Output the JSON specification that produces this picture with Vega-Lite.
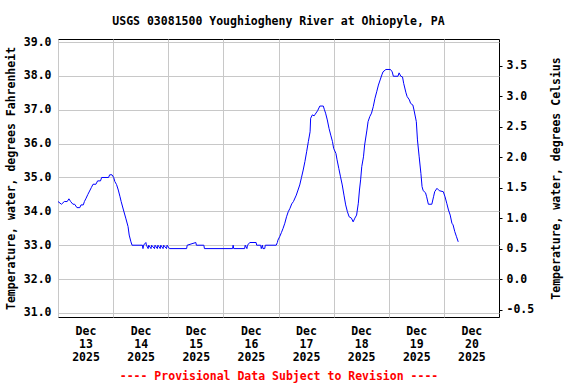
{
  "$schema": "https://vega.github.io/schema/vega-lite/v6.json",
  "width": 441,
  "height": 278,
  "autosize": "none",
  "padding": {"left": 58, "top": 39, "right": 77, "bottom": 67},
  "background": "white",
  "title": {
    "text": "USGS 03081500 Youghiogheny River at Ohiopyle, PA",
    "font": "DejaVu Sans Mono",
    "fontSize": 11.5,
    "fontWeight": "bold",
    "color": "black",
    "anchor": "middle",
    "frame": "group",
    "baseline": "alphabetic",
    "offset": 0
  },
  "config": {
    "view": {"stroke": "black", "strokeWidth": 1},
    "axis": {
      "labelFont": "DejaVu Sans Mono",
      "labelFontSize": 11.5,
      "labelFontWeight": "bold",
      "labelColor": "black",
      "titleFont": "DejaVu Sans Mono",
      "titleFontSize": 11.5,
      "titleFontWeight": "bold",
      "titleColor": "black",
      "gridColor": "#c8c8c8",
      "gridOpacity": 1
    }
  },
  "data": {
    "values": [
      {"t": "2025-12-13T00:00", "f": 34.29},
      {"t": "2025-12-13T01:30", "f": 34.21},
      {"t": "2025-12-13T02:45", "f": 34.29},
      {"t": "2025-12-13T04:00", "f": 34.29},
      {"t": "2025-12-13T04:45", "f": 34.37},
      {"t": "2025-12-13T05:30", "f": 34.29},
      {"t": "2025-12-13T06:30", "f": 34.21},
      {"t": "2025-12-13T07:15", "f": 34.21},
      {"t": "2025-12-13T08:15", "f": 34.11},
      {"t": "2025-12-13T09:30", "f": 34.11},
      {"t": "2025-12-13T10:00", "f": 34.19},
      {"t": "2025-12-13T11:00", "f": 34.19},
      {"t": "2025-12-13T11:30", "f": 34.29},
      {"t": "2025-12-13T12:15", "f": 34.39},
      {"t": "2025-12-13T13:00", "f": 34.5},
      {"t": "2025-12-13T13:45", "f": 34.6},
      {"t": "2025-12-13T14:30", "f": 34.7},
      {"t": "2025-12-13T15:15", "f": 34.8},
      {"t": "2025-12-13T16:30", "f": 34.8},
      {"t": "2025-12-13T17:15", "f": 34.9},
      {"t": "2025-12-13T18:30", "f": 34.9},
      {"t": "2025-12-13T19:00", "f": 35.0},
      {"t": "2025-12-13T22:00", "f": 35.0},
      {"t": "2025-12-13T22:30", "f": 35.08},
      {"t": "2025-12-13T23:30", "f": 35.08},
      {"t": "2025-12-14T00:15", "f": 35.0},
      {"t": "2025-12-14T00:45", "f": 34.88},
      {"t": "2025-12-14T01:30", "f": 34.79},
      {"t": "2025-12-14T02:15", "f": 34.63},
      {"t": "2025-12-14T03:00", "f": 34.43},
      {"t": "2025-12-14T03:30", "f": 34.29},
      {"t": "2025-12-14T04:30", "f": 34.04},
      {"t": "2025-12-14T05:30", "f": 33.8},
      {"t": "2025-12-14T06:30", "f": 33.55},
      {"t": "2025-12-14T07:00", "f": 33.3},
      {"t": "2025-12-14T07:45", "f": 33.1},
      {"t": "2025-12-14T08:15", "f": 33.0},
      {"t": "2025-12-14T12:45", "f": 33.0},
      {"t": "2025-12-14T13:00", "f": 32.9},
      {"t": "2025-12-14T13:15", "f": 33.0},
      {"t": "2025-12-14T14:15", "f": 33.08},
      {"t": "2025-12-14T14:30", "f": 33.0},
      {"t": "2025-12-14T15:15", "f": 32.9},
      {"t": "2025-12-14T15:30", "f": 33.0},
      {"t": "2025-12-14T16:30", "f": 32.9},
      {"t": "2025-12-14T16:45", "f": 33.0},
      {"t": "2025-12-14T18:00", "f": 32.9},
      {"t": "2025-12-14T18:15", "f": 33.0},
      {"t": "2025-12-14T19:15", "f": 32.9},
      {"t": "2025-12-14T19:30", "f": 33.0},
      {"t": "2025-12-14T20:30", "f": 32.9},
      {"t": "2025-12-14T20:45", "f": 33.0},
      {"t": "2025-12-14T21:45", "f": 32.9},
      {"t": "2025-12-14T22:00", "f": 33.0},
      {"t": "2025-12-14T23:15", "f": 32.9},
      {"t": "2025-12-14T23:30", "f": 33.0},
      {"t": "2025-12-15T00:30", "f": 32.9},
      {"t": "2025-12-15T08:00", "f": 32.9},
      {"t": "2025-12-15T08:15", "f": 33.0},
      {"t": "2025-12-15T12:00", "f": 33.08},
      {"t": "2025-12-15T12:15", "f": 33.0},
      {"t": "2025-12-15T15:30", "f": 33.0},
      {"t": "2025-12-15T15:45", "f": 32.9},
      {"t": "2025-12-16T04:00", "f": 32.9},
      {"t": "2025-12-16T04:15", "f": 33.0},
      {"t": "2025-12-16T04:30", "f": 32.9},
      {"t": "2025-12-16T09:15", "f": 32.9},
      {"t": "2025-12-16T09:30", "f": 33.0},
      {"t": "2025-12-16T10:15", "f": 32.9},
      {"t": "2025-12-16T10:30", "f": 33.0},
      {"t": "2025-12-16T11:30", "f": 33.08},
      {"t": "2025-12-16T14:15", "f": 33.08},
      {"t": "2025-12-16T14:30", "f": 33.0},
      {"t": "2025-12-16T16:15", "f": 33.0},
      {"t": "2025-12-16T16:30", "f": 32.9},
      {"t": "2025-12-16T17:00", "f": 33.0},
      {"t": "2025-12-16T17:15", "f": 32.9},
      {"t": "2025-12-16T18:00", "f": 32.9},
      {"t": "2025-12-16T18:15", "f": 33.0},
      {"t": "2025-12-16T23:00", "f": 33.0},
      {"t": "2025-12-16T23:30", "f": 33.08},
      {"t": "2025-12-16T23:45", "f": 33.15},
      {"t": "2025-12-17T00:30", "f": 33.25},
      {"t": "2025-12-17T01:15", "f": 33.37},
      {"t": "2025-12-17T02:00", "f": 33.5},
      {"t": "2025-12-17T02:45", "f": 33.65},
      {"t": "2025-12-17T03:30", "f": 33.84},
      {"t": "2025-12-17T04:15", "f": 33.99},
      {"t": "2025-12-17T05:00", "f": 34.09},
      {"t": "2025-12-17T05:45", "f": 34.22},
      {"t": "2025-12-17T06:30", "f": 34.29},
      {"t": "2025-12-17T07:45", "f": 34.48},
      {"t": "2025-12-17T08:30", "f": 34.63},
      {"t": "2025-12-17T09:15", "f": 34.78},
      {"t": "2025-12-17T10:00", "f": 35.0},
      {"t": "2025-12-17T10:45", "f": 35.22},
      {"t": "2025-12-17T11:30", "f": 35.47},
      {"t": "2025-12-17T12:15", "f": 35.76},
      {"t": "2025-12-17T13:00", "f": 36.06},
      {"t": "2025-12-17T13:45", "f": 36.35},
      {"t": "2025-12-17T14:00", "f": 36.75},
      {"t": "2025-12-17T14:45", "f": 36.85},
      {"t": "2025-12-17T15:30", "f": 36.82},
      {"t": "2025-12-17T16:00", "f": 36.87},
      {"t": "2025-12-17T17:00", "f": 36.97},
      {"t": "2025-12-17T18:00", "f": 37.11},
      {"t": "2025-12-17T19:30", "f": 37.11},
      {"t": "2025-12-17T20:00", "f": 37.0},
      {"t": "2025-12-17T20:30", "f": 36.9},
      {"t": "2025-12-17T21:15", "f": 36.7},
      {"t": "2025-12-17T22:00", "f": 36.45},
      {"t": "2025-12-17T22:45", "f": 36.25},
      {"t": "2025-12-17T23:30", "f": 36.06},
      {"t": "2025-12-18T00:00", "f": 35.86},
      {"t": "2025-12-18T01:00", "f": 35.71},
      {"t": "2025-12-18T01:30", "f": 35.52},
      {"t": "2025-12-18T02:15", "f": 35.27},
      {"t": "2025-12-18T03:00", "f": 35.02},
      {"t": "2025-12-18T03:45", "f": 34.78},
      {"t": "2025-12-18T04:30", "f": 34.48},
      {"t": "2025-12-18T05:15", "f": 34.19},
      {"t": "2025-12-18T06:00", "f": 33.99},
      {"t": "2025-12-18T06:45", "f": 33.84},
      {"t": "2025-12-18T07:45", "f": 33.8},
      {"t": "2025-12-18T08:30", "f": 33.69},
      {"t": "2025-12-18T09:15", "f": 33.8},
      {"t": "2025-12-18T10:00", "f": 33.89},
      {"t": "2025-12-18T10:45", "f": 34.24},
      {"t": "2025-12-18T11:15", "f": 34.63},
      {"t": "2025-12-18T11:45", "f": 34.93},
      {"t": "2025-12-18T12:15", "f": 35.32},
      {"t": "2025-12-18T13:00", "f": 35.61},
      {"t": "2025-12-18T13:30", "f": 35.96},
      {"t": "2025-12-18T14:30", "f": 36.4},
      {"t": "2025-12-18T15:00", "f": 36.65},
      {"t": "2025-12-18T15:45", "f": 36.8},
      {"t": "2025-12-18T16:30", "f": 36.9},
      {"t": "2025-12-18T17:15", "f": 37.09},
      {"t": "2025-12-18T18:00", "f": 37.34},
      {"t": "2025-12-18T18:45", "f": 37.53},
      {"t": "2025-12-18T19:30", "f": 37.73},
      {"t": "2025-12-18T20:15", "f": 37.88},
      {"t": "2025-12-18T21:00", "f": 38.03},
      {"t": "2025-12-18T21:30", "f": 38.12},
      {"t": "2025-12-18T22:45", "f": 38.19},
      {"t": "2025-12-19T00:45", "f": 38.19},
      {"t": "2025-12-19T01:30", "f": 38.12},
      {"t": "2025-12-19T02:00", "f": 37.99},
      {"t": "2025-12-19T04:00", "f": 37.99},
      {"t": "2025-12-19T04:30", "f": 38.09},
      {"t": "2025-12-19T05:15", "f": 37.99},
      {"t": "2025-12-19T06:00", "f": 37.97},
      {"t": "2025-12-19T06:30", "f": 37.78},
      {"t": "2025-12-19T07:30", "f": 37.5},
      {"t": "2025-12-19T08:00", "f": 37.39},
      {"t": "2025-12-19T09:00", "f": 37.29},
      {"t": "2025-12-19T09:30", "f": 37.19},
      {"t": "2025-12-19T10:30", "f": 37.14},
      {"t": "2025-12-19T11:00", "f": 36.99},
      {"t": "2025-12-19T12:00", "f": 36.65},
      {"t": "2025-12-19T12:30", "f": 36.11},
      {"t": "2025-12-19T13:15", "f": 35.61},
      {"t": "2025-12-19T14:00", "f": 35.12},
      {"t": "2025-12-19T14:30", "f": 34.73},
      {"t": "2025-12-19T15:00", "f": 34.61},
      {"t": "2025-12-19T16:00", "f": 34.55},
      {"t": "2025-12-19T16:30", "f": 34.43},
      {"t": "2025-12-19T17:15", "f": 34.21},
      {"t": "2025-12-19T18:45", "f": 34.21},
      {"t": "2025-12-19T19:30", "f": 34.43},
      {"t": "2025-12-19T20:00", "f": 34.58},
      {"t": "2025-12-19T21:00", "f": 34.68},
      {"t": "2025-12-19T22:00", "f": 34.61},
      {"t": "2025-12-19T23:45", "f": 34.58},
      {"t": "2025-12-20T00:30", "f": 34.43},
      {"t": "2025-12-20T01:15", "f": 34.24},
      {"t": "2025-12-20T02:00", "f": 34.04},
      {"t": "2025-12-20T02:45", "f": 33.89},
      {"t": "2025-12-20T03:30", "f": 33.65},
      {"t": "2025-12-20T04:00", "f": 33.6},
      {"t": "2025-12-20T04:45", "f": 33.4},
      {"t": "2025-12-20T05:30", "f": 33.25},
      {"t": "2025-12-20T06:15", "f": 33.1}
    ]
  },
  "layer": [
    {
      "mark": {"type": "line", "color": "#0000ff", "strokeWidth": 1, "interpolate": "linear"},
      "encoding": {
        "x": {
          "field": "t",
          "type": "temporal",
          "scale": {"domain": [
            {"year": 2025, "month": 12, "date": 13, "hours": 0},
            {"year": 2025, "month": 12, "date": 21, "hours": 0}
          ]},
          "axis": {
            "values": [
              {"year": 2025, "month": 12, "date": 13, "hours": 0},
              {"year": 2025, "month": 12, "date": 14, "hours": 0},
              {"year": 2025, "month": 12, "date": 15, "hours": 0},
              {"year": 2025, "month": 12, "date": 16, "hours": 0},
              {"year": 2025, "month": 12, "date": 17, "hours": 0},
              {"year": 2025, "month": 12, "date": 18, "hours": 0},
              {"year": 2025, "month": 12, "date": 19, "hours": 0},
              {"year": 2025, "month": 12, "date": 20, "hours": 0}
            ],
            "labelExpr": "[timeFormat(datum.value, '%b'), timeFormat(datum.value, '%d'), timeFormat(datum.value, '%Y')]",
            "labelOffset": 27.5,
            "labelAlign": "center",
            "labelBaseline": "top",
            "labelLineHeight": 13,
            "labelPadding": 8,
            "labelFlush": false,
            "labelOverlap": false,
            "ticks": false,
            "tickSize": 0,
            "domain": false,
            "grid": true,
            "title": "---- Provisional Data Subject to Revision ----",
            "titleColor": "#ff0000",
            "titleX": 220.5,
            "titleY": 62,
            "titleAlign": "center",
            "titleBaseline": "alphabetic"
          }
        },
        "y": {
          "field": "f",
          "type": "quantitative",
          "scale": {"domain": [30.88, 39.09], "nice": false, "zero": false},
          "axis": {
            "values": [31, 32, 33, 34, 35, 36, 37, 38, 39],
            "format": ".1f",
            "ticks": false,
            "tickSize": 0,
            "domain": false,
            "grid": true,
            "labelPadding": 7,
            "title": "Temperature, water, degrees Fahrenheit",
            "titleAngle": 270,
            "titleX": -43.5,
            "titleY": 139,
            "titleAlign": "center",
            "titleBaseline": "alphabetic"
          }
        }
      }
    },
    {
      "mark": {"type": "line", "opacity": 0},
      "encoding": {
        "x": {"field": "t", "type": "temporal"},
        "y": {
          "field": "f",
          "type": "quantitative",
          "axis": {
            "orient": "right",
            "values": [31.1, 32, 32.9, 33.8, 34.7, 35.6, 36.5, 37.4, 38.3],
            "labelExpr": "replace(format((datum.value - 32) * 5 / 9, '.1f'), '\u2212', '-')",
            "grid": false,
            "domain": false,
            "ticks": true,
            "tickSize": 3,
            "tickColor": "black",
            "labelPadding": 4,
            "title": "Temperature, water, degrees Celsius",
            "titleAngle": 270,
            "titleX": 60,
            "titleY": 139,
            "titleAlign": "center",
            "titleBaseline": "alphabetic"
          }
        }
      }
    }
  ],
  "resolve": {"axis": {"y": "independent"}}
}
